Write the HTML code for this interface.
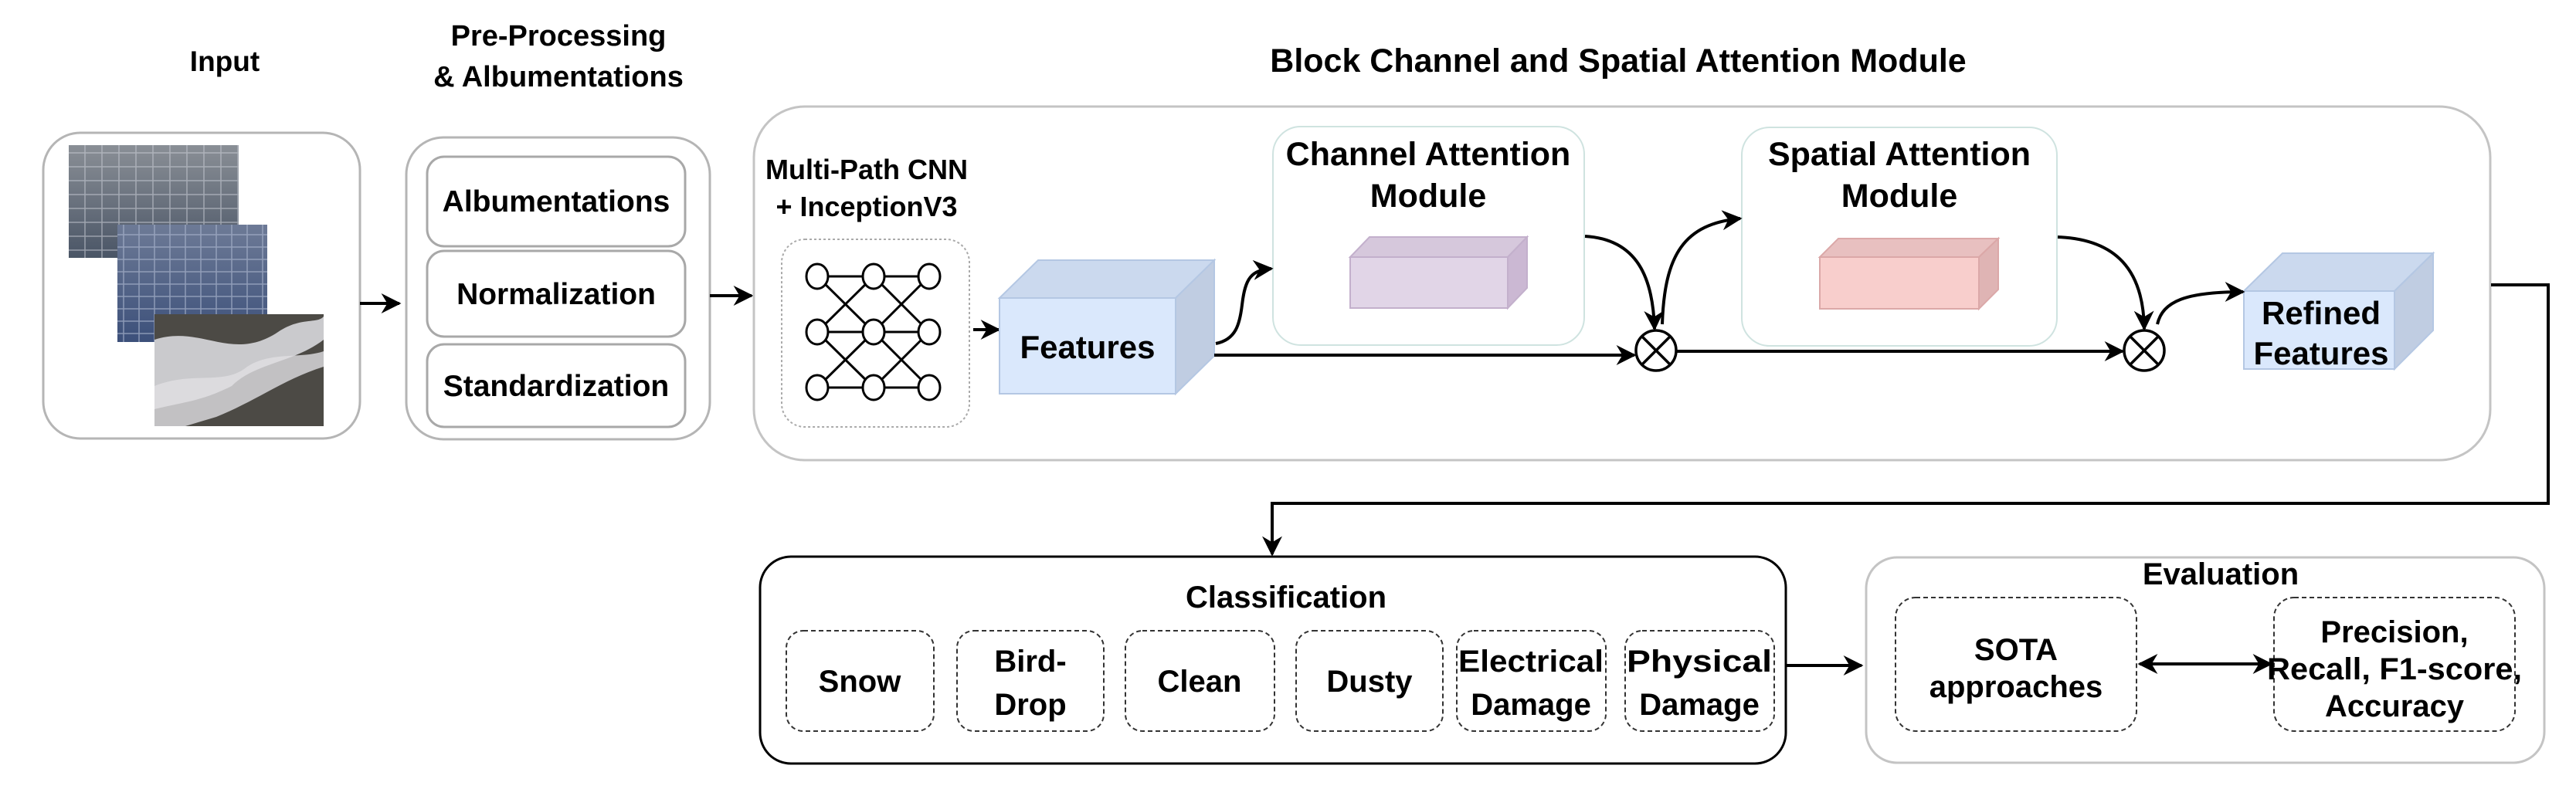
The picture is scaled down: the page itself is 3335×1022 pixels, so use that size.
<!DOCTYPE html>
<html><head><meta charset="utf-8"><style>
html,body{margin:0;padding:0;background:#fff}
svg{display:block}
text{font-family:"Liberation Sans",Arial,sans-serif;font-weight:bold;fill:#000}
</style></head><body>
<svg width="3335" height="1022" viewBox="0 0 3335 1022" xmlns="http://www.w3.org/2000/svg">
<defs>
<marker id="a" viewBox="0 0 10 10" refX="9" refY="5" markerWidth="26" markerHeight="26" markerUnits="userSpaceOnUse" orient="auto-start-reverse"><path d="M0,0 L10,5 L0,10 L3,5 z" fill="#000"/></marker>
<pattern id="grid1" width="22" height="18" patternUnits="userSpaceOnUse"><rect width="22" height="18" fill="none" stroke="#c8ccd4" stroke-width="1.5" opacity="0.6"/></pattern>
<pattern id="grid2" width="20" height="16" patternUnits="userSpaceOnUse"><rect width="20" height="16" fill="none" stroke="#a8b4cc" stroke-width="1.5" opacity="0.7"/></pattern>
<linearGradient id="g1" x1="0" y1="0" x2="0" y2="1"><stop offset="0" stop-color="#8a8f96"/><stop offset="1" stop-color="#4a5566"/></linearGradient>
<linearGradient id="g2" x1="0" y1="0" x2="0" y2="1"><stop offset="0" stop-color="#6d7a96"/><stop offset="1" stop-color="#3c507a"/></linearGradient>
</defs>

<!-- titles -->
<text x="291" y="92" font-size="37" text-anchor="middle">Input</text>
<text x="723" y="59" font-size="38" text-anchor="middle">Pre-Processing</text>
<text x="723" y="112" font-size="38" text-anchor="middle">&amp; Albumentations</text>
<text x="2095" y="93" font-size="43" text-anchor="middle">Block Channel and Spatial Attention Module</text>

<!-- Input box -->
<rect x="56" y="172" width="410" height="396" rx="48" fill="#fff" stroke="#b5b5b5" stroke-width="3"/>
<rect x="89" y="188" width="220" height="146" fill="url(#g1)"/>
<rect x="89" y="188" width="220" height="146" fill="url(#grid1)"/>
<rect x="152" y="291" width="194" height="152" fill="url(#g2)"/>
<rect x="152" y="291" width="194" height="152" fill="url(#grid2)"/>
<rect x="200" y="407" width="219" height="145" fill="#4c4a45"/>
<path d="M200,440 C260,420 300,470 360,430 C390,410 410,420 419,410 L419,440 C380,470 330,470 300,500 C260,520 240,520 200,530 Z" fill="#d8d8dc" opacity="0.9"/>
<path d="M200,500 C250,480 290,500 320,475 C350,455 390,465 419,455 L419,475 C370,490 330,520 280,540 L240,552 L200,552 Z" fill="#e0dee2" opacity="0.8"/>

<line x1="466" y1="393" x2="517" y2="393" stroke="#000" stroke-width="4" marker-end="url(#a)"/>

<!-- PP box -->
<rect x="526" y="178" width="393" height="391" rx="48" fill="#fff" stroke="#b5b5b5" stroke-width="3"/>
<rect x="553" y="203" width="334" height="116" rx="22" fill="#fff" stroke="#a8a8a8" stroke-width="3"/>
<rect x="553" y="325" width="334" height="111" rx="22" fill="#fff" stroke="#a8a8a8" stroke-width="3"/>
<rect x="553" y="446" width="334" height="107" rx="22" fill="#fff" stroke="#a8a8a8" stroke-width="3"/>
<text x="720" y="274" font-size="39" text-anchor="middle">Albumentations</text>
<text x="720" y="394" font-size="39" text-anchor="middle">Normalization</text>
<text x="720" y="513" font-size="39" text-anchor="middle">Standardization</text>

<line x1="919" y1="383" x2="973" y2="383" stroke="#000" stroke-width="4" marker-end="url(#a)"/>

<!-- Block box -->
<rect x="976" y="138" width="2248" height="458" rx="66" fill="#fff" stroke="#c4c4c4" stroke-width="3"/>

<text x="1122" y="232" font-size="36" text-anchor="middle">Multi-Path CNN</text>
<text x="1122" y="280" font-size="36" text-anchor="middle">+ InceptionV3</text>

<rect x="1012" y="310" width="243" height="243" rx="30" fill="#fff" stroke="#aaa" stroke-width="2" stroke-dasharray="3,3"/>
<g stroke="#000" stroke-width="3" fill="#fff">
<line x1="1058" y1="358" x2="1203" y2="358"/><line x1="1058" y1="430" x2="1203" y2="430"/><line x1="1058" y1="502" x2="1203" y2="502"/>
<line x1="1058" y1="358" x2="1131" y2="430"/><line x1="1131" y1="358" x2="1058" y2="430"/>
<line x1="1131" y1="358" x2="1203" y2="430"/><line x1="1203" y1="358" x2="1131" y2="430"/>
<line x1="1058" y1="430" x2="1131" y2="502"/><line x1="1131" y1="430" x2="1058" y2="502"/>
<line x1="1131" y1="430" x2="1203" y2="502"/><line x1="1203" y1="430" x2="1131" y2="502"/>
<ellipse cx="1058" cy="358" rx="14" ry="16"/><ellipse cx="1131" cy="358" rx="14" ry="16"/><ellipse cx="1203" cy="358" rx="14" ry="16"/>
<ellipse cx="1058" cy="430" rx="14" ry="16"/><ellipse cx="1131" cy="430" rx="14" ry="16"/><ellipse cx="1203" cy="430" rx="14" ry="16"/>
<ellipse cx="1058" cy="502" rx="14" ry="16"/><ellipse cx="1131" cy="502" rx="14" ry="16"/><ellipse cx="1203" cy="502" rx="14" ry="16"/>
</g>
<line x1="1260" y1="427" x2="1293" y2="427" stroke="#000" stroke-width="4" marker-end="url(#a)"/>

<!-- Features cube -->
<polygon points="1294,386 1344,337 1572,337 1522,386" fill="#cbd9ee" stroke="#b4c7e3" stroke-width="2"/>
<polygon points="1522,386 1572,337 1572,461 1522,510" fill="#c0cde2" stroke="#b4c7e3" stroke-width="2"/>
<rect x="1294" y="386" width="228" height="124" fill="#dae8fc" stroke="#b4c7e3" stroke-width="2"/>
<text x="1408" y="464" font-size="42" text-anchor="middle">Features</text>

<!-- Channel attention -->
<rect x="1648" y="164" width="403" height="283" rx="36" fill="#fff" stroke="#cfe3e0" stroke-width="2"/>
<text x="1849" y="214" font-size="43" text-anchor="middle">Channel Attention</text>
<text x="1849" y="268" font-size="43" text-anchor="middle">Module</text>
<polygon points="1748,333 1773,307 1977,307 1952,333" fill="#d6c8dc" stroke="#c3b0cc" stroke-width="2"/>
<polygon points="1952,333 1977,307 1977,373 1952,399" fill="#cbb8d3" stroke="#c3b0cc" stroke-width="2"/>
<rect x="1748" y="333" width="204" height="66" fill="#e1d5e7" stroke="#c3b0cc" stroke-width="2"/>

<!-- Spatial attention -->
<rect x="2255" y="165" width="408" height="283" rx="36" fill="#fff" stroke="#cfe3e0" stroke-width="2"/>
<text x="2459" y="214" font-size="43" text-anchor="middle">Spatial Attention</text>
<text x="2459" y="268" font-size="43" text-anchor="middle">Module</text>
<polygon points="2356,333 2380,309 2587,309 2562,333" fill="#e8c0c0" stroke="#dba8a8" stroke-width="2"/>
<polygon points="2562,333 2587,309 2587,375 2562,400" fill="#dfb4b4" stroke="#dba8a8" stroke-width="2"/>
<rect x="2356" y="333" width="206" height="67" fill="#f8cecc" stroke="#dba8a8" stroke-width="2"/>

<!-- Refined cube -->
<polygon points="2905,377 2955,328 3150,328 3100,377" fill="#cbd9ee" stroke="#b4c7e3" stroke-width="2"/>
<polygon points="3100,377 3150,328 3150,428 3100,478" fill="#c0cde2" stroke="#b4c7e3" stroke-width="2"/>
<rect x="2905" y="377" width="195" height="101" fill="#dae8fc" stroke="#b4c7e3" stroke-width="2"/>
<text x="3005" y="420" font-size="42" text-anchor="middle">Refined</text>
<text x="3005" y="472" font-size="42" text-anchor="middle">Features</text>

<!-- otimes -->
<g stroke="#000" stroke-width="3.5" fill="#fff">
<circle cx="2144" cy="454" r="26"/>
<line x1="2126" y1="436" x2="2162" y2="472"/><line x1="2162" y1="436" x2="2126" y2="472"/>
<circle cx="2776" cy="454" r="26"/>
<line x1="2758" y1="436" x2="2794" y2="472"/><line x1="2794" y1="436" x2="2758" y2="472"/>
</g>

<g stroke="#000" stroke-width="4" fill="none">
<line x1="1572" y1="460" x2="2116" y2="460" marker-end="url(#a)"/>
<path d="M1574,445 C1600,440 1605,420 1608,395 C1612,360 1620,350 1646,348" marker-end="url(#a)"/>
<path d="M2052,306 C2120,310 2140,360 2142,426" marker-end="url(#a)"/>
<path d="M2152,420 C2155,330 2180,290 2253,283" marker-end="url(#a)"/>
<line x1="2170" y1="455" x2="2748" y2="455" marker-end="url(#a)"/>
<path d="M2664,307 C2740,310 2775,350 2776,426" marker-end="url(#a)"/>
<path d="M2793,420 C2800,390 2830,378 2904,378" marker-end="url(#a)"/>
<polyline points="3225,369 3299,369 3299,652 1647,652 1647,718" marker-end="url(#a)"/>
</g>

<!-- Classification -->
<rect x="984" y="721" width="1328" height="268" rx="40" fill="#fff" stroke="#000" stroke-width="3"/>
<text x="1665" y="787" font-size="40" text-anchor="middle">Classification</text>
<g fill="#fff" stroke="#333" stroke-width="2" stroke-dasharray="6,4">
<rect x="1018" y="817" width="191" height="130" rx="22"/>
<rect x="1239" y="817" width="190" height="130" rx="22"/>
<rect x="1457" y="817" width="193" height="130" rx="22"/>
<rect x="1678" y="817" width="190" height="130" rx="22"/>
<rect x="1886" y="817" width="193" height="130" rx="22"/>
<rect x="2104" y="817" width="193" height="130" rx="22"/>
</g>
<g font-size="40" text-anchor="middle">
<text x="1113" y="896">Snow</text>
<text x="1334" y="870">Bird-</text><text x="1334" y="926">Drop</text>
<text x="1553" y="896">Clean</text>
<text x="1773" y="896">Dusty</text>
<text x="1982" y="870" textLength="188" lengthAdjust="spacingAndGlyphs">Electrical</text><text x="1982" y="926">Damage</text>
<text x="2200" y="870" textLength="188" lengthAdjust="spacingAndGlyphs">Physical</text><text x="2200" y="926">Damage</text>
</g>

<line x1="2312" y1="862" x2="2410" y2="862" stroke="#000" stroke-width="4" marker-end="url(#a)"/>

<!-- Evaluation -->
<rect x="2416" y="722" width="878" height="266" rx="40" fill="#fff" stroke="#c4c4c4" stroke-width="3"/>
<text x="2875" y="757" font-size="40" text-anchor="middle">Evaluation</text>
<g fill="#fff" stroke="#333" stroke-width="2" stroke-dasharray="6,4">
<rect x="2454" y="774" width="312" height="173" rx="26"/>
<rect x="2944" y="774" width="312" height="173" rx="26"/>
</g>
<g font-size="40" text-anchor="middle">
<text x="2610" y="855">SOTA</text><text x="2610" y="903">approaches</text>
<text x="3100" y="832">Precision,</text><text x="3100" y="880" textLength="330" lengthAdjust="spacingAndGlyphs">Recall, F1-score,</text><text x="3100" y="928">Accuracy</text>
</g>
<line x1="2770" y1="860" x2="2940" y2="860" stroke="#000" stroke-width="4" marker-start="url(#a)" marker-end="url(#a)"/>
</svg>
</body></html>
